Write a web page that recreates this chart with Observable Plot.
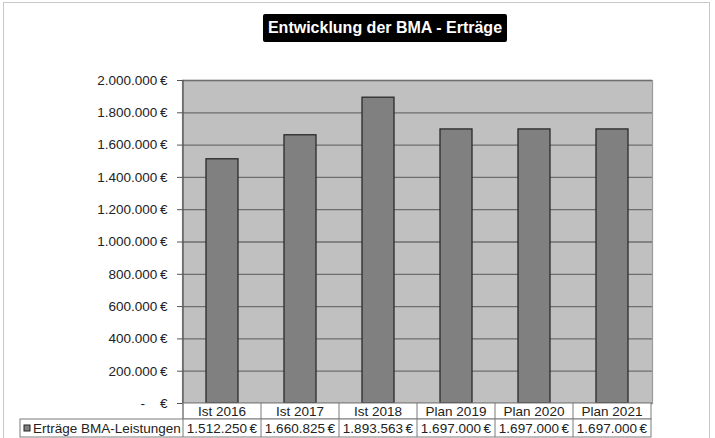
<!DOCTYPE html>
<html><head><meta charset="utf-8">
<script src="https://cdn.jsdelivr.net/npm/d3@7"></script>
<script src="https://cdn.jsdelivr.net/npm/@observablehq/plot@0.6"></script>
<style>
body{margin:0;background:#fff;}
#wrap{position:relative;width:715px;height:438px;overflow:hidden;font-family:"Liberation Sans",Arial,sans-serif;}
#frame{position:absolute;left:3px;top:2px;width:707px;height:460px;border:1.5px solid #c8c8c8;box-sizing:border-box;}
#title{position:absolute;left:263px;top:14px;width:244px;height:28px;background:#000;color:#fff;font-weight:bold;font-size:16px;line-height:28px;text-align:center;border-radius:2px;white-space:nowrap;}
#chart{position:absolute;left:0;top:0;}
</style></head>
<body>
<div id="wrap"><div id="frame"></div><div id="chart"></div><div id="title">Entwicklung der BMA - Erträge</div></div>
<script>
const categories = ["Ist 2016","Ist 2017","Ist 2018","Plan 2019","Plan 2020","Plan 2021"];
const values = [1512250,1660825,1893563,1697000,1697000,1697000];
const yTicks = [0,200000,400000,600000,800000,1000000,1200000,1400000,1600000,1800000,2000000];
const seriesName = "Erträge BMA-Leistungen";

const locale = d3.formatLocale({decimal:",",thousands:".",grouping:[3],currency:["","€"]});
const fmt = locale.format(",.0f");
const euro = v => v === 0 ? "-\u00a0\u00a0\u00a0\u00a0€" : fmt(v) + "\u2009€";
const data = categories.map((c,i)=>({cat:c,value:values[i]}));
const FS = 13.5;

const plot = Plot.plot({
  width:715, height:438,
  marginLeft:182, marginRight:63, marginTop:80, marginBottom:35,
  style:{fontFamily:"Liberation Sans, Arial, sans-serif", fontSize:FS+"px", background:"transparent", color:"#222", overflow:"visible"},
  x:{domain:categories, paddingInner:0.59, paddingOuter:0.295, axis:null},
  y:{domain:[0,2000000], axis:null},
  marks:[
    Plot.frame({fill:"#c0c0c0", stroke:"#9a9a9a", strokeWidth:1.2}),
    Plot.ruleY(yTicks,{stroke:"#6e6e6e", strokeWidth:1.3}),
    Plot.axisY({ticks:yTicks, tickFormat:euro, tickSize:5, tickPadding:10, label:null, stroke:"#555", fill:"#222", fontSize:FS}),
    Plot.barY(data,{x:"cat", y:"value", fill:"#808080", stroke:"#2a2a2a", strokeWidth:1.3})
  ]
});
document.getElementById("chart").appendChild(plot);

// table below the plot, aligned with the plot's own scales
const xs = plot.scale("x"), ys = plot.scale("y");
const step = xs.step, bw = xs.bandwidth;
const colLeft = c => xs.apply(c) - (step - bw)/2;
const y0 = ys.apply(0), yTop = ys.apply(2000000);
const rowH1 = 16, rowH2 = 18;
const left = colLeft(categories[0]);
const right = colLeft(categories[categories.length-1]) + step;
const svg = d3.select(plot);
// left axis line
svg.append("line").attr("x1",left).attr("x2",left).attr("y1",yTop).attr("y2",y0).attr("stroke","#555").attr("stroke-width",1.3);
const g = svg.append("g").attr("font-family","Liberation Sans, Arial, sans-serif").attr("font-size",FS).attr("fill","#222").attr("text-anchor","start");
const lineC = "#7a7a7a";
g.append("rect").attr("x",left).attr("y",y0).attr("width",right-left).attr("height",rowH1).attr("fill","#fff").attr("stroke",lineC);
g.append("rect").attr("x",20).attr("y",y0+rowH1).attr("width",right-20).attr("height",rowH2).attr("fill","#fff").attr("stroke",lineC);
categories.forEach((c,i)=>{
  const x = colLeft(c);
  if (i>0) g.append("line").attr("x1",x).attr("x2",x).attr("y1",y0).attr("y2",y0+rowH1+rowH2).attr("stroke",lineC);
  g.append("text").attr("x",x+step/2).attr("y",y0+rowH1-3).attr("text-anchor","middle").text(c);
  g.append("text").attr("x",x+step/2).attr("y",y0+rowH1+rowH2-4).attr("text-anchor","middle").text(euro(values[i]));
});
g.append("line").attr("x1",left).attr("x2",left).attr("y1",y0).attr("y2",y0+rowH1+rowH2).attr("stroke",lineC);
g.append("rect").attr("x",24).attr("y",y0+rowH1+6).attr("width",6).attr("height",6).attr("fill","#808080").attr("stroke","#222");
g.append("text").attr("x",33).attr("y",y0+rowH1+rowH2-4).attr("text-anchor","start").text(seriesName);
</script>
</body></html>
